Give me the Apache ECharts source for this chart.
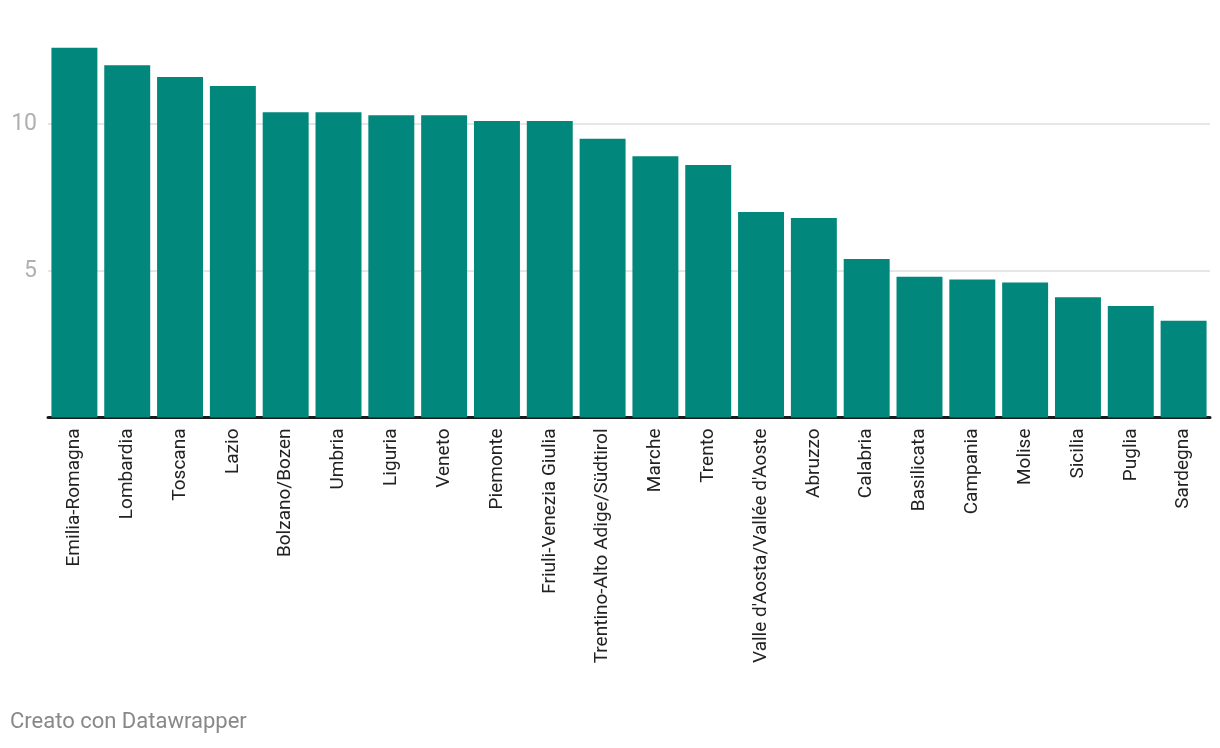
<!DOCTYPE html>
<html>
<head>
<meta charset="utf-8">
<script src="https://cdn.jsdelivr.net/npm/echarts@6/dist/echarts.min.js"></script>
<style>
html,body{margin:0;padding:0;background:#fff;}
#c{width:1220px;height:748px;}
</style>
</head>
<body>
<div id="c"></div>
<script>
const categories = ["Emilia-Romagna","Lombardia","Toscana","Lazio","Bolzano/Bozen","Umbria","Liguria","Veneto","Piemonte","Friuli-Venezia Giulia","Trentino-Alto Adige/Südtirol","Marche","Trento","Valle d'Aosta/Vallée d'Aoste","Abruzzo","Calabria","Basilicata","Campania","Molise","Sicilia","Puglia","Sardegna"];
const values = [12.6,12.0,11.6,11.3,10.4,10.4,10.3,10.3,10.1,10.1,9.5,8.9,8.6,7.0,6.8,5.4,4.8,4.7,4.6,4.1,3.8,3.3];
const yTickLabels = ["5","10"];
const footer = "Creato con Datawrapper";

const chart = echarts.init(document.getElementById('c'));
chart.setOption({
  animation:false,
  textStyle:{fontFamily:'Roboto'},
  grid:{left:48,right:10,top:36,bottom:330.5,containLabel:false},
  graphic:[{type:'text',left:10,top:711,style:{text:footer,fill:'#888',font:'22px Roboto'}}],
  xAxis:{type:'category',data:categories,
    axisLine:{lineStyle:{color:'#1a1a1a',width:3}},
    axisTick:{show:false},
    axisLabel:{rotate:90,interval:0,fontSize:19,color:'#222',margin:11,fontFamily:'Roboto'}},
  yAxis:{type:'value',min:0,max:13,interval:5,
    axisLine:{show:false},axisTick:{show:false},
    splitLine:{lineStyle:{color:['transparent','#e6e6e6','#e6e6e6','transparent'],width:2}},
    axisLabel:{fontSize:23,color:'#b0b0b0',margin:11,fontFamily:'Roboto',
      formatter:v=>yTickLabels.includes(String(v))?String(v):''}},
  series:[{type:'bar',data:values,barCategoryGap:'13%',itemStyle:{color:'#01877b'}}]
});
</script>
</body>
</html>
